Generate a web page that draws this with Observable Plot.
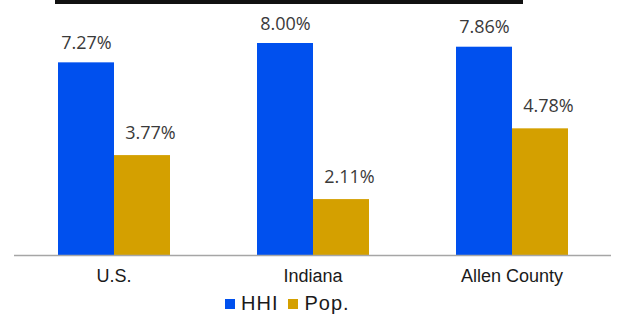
<!DOCTYPE html>
<html>
<head>
<meta charset="utf-8">
<script src="https://cdn.jsdelivr.net/npm/d3@7"></script>
<script src="https://cdn.jsdelivr.net/npm/@observablehq/plot@0.6"></script>
<style>
  html, body { margin: 0; padding: 0; background: #fff; }
  #wrap { position: relative; width: 618px; height: 320px; overflow: hidden; }
  #topbar { position: absolute; top: 0; left: 55px; width: 468px; height: 4px; background: #111; }
  #chart { position: absolute; top: 0; left: 0; }
  #legend { position: absolute; top: 292px; left: 225px; display: flex; align-items: center;
            font-family: "Liberation Sans", Arial, sans-serif; font-size: 20px; color: #1a1a1a;
            letter-spacing: 1px; }
  .sw { width: 10px; height: 10px; display: inline-block; margin-right: 6px; }
  .item { display: flex; align-items: center; margin-right: 10px; }
</style>
</head>
<body>
<div id="wrap">
  <div id="chart"></div>
  <div id="topbar"></div>
  <div id="legend"></div>
</div>
<script>
const regions = ["U.S.", "Indiana", "Allen County"];
const seriesNames = ["HHI", "Pop."];
const hhi = [7.27, 8.00, 7.86];
const pop = [3.77, 2.11, 4.78];
const colors = ["#0050EE", "#D4A000"];

const data = [];
regions.forEach((r, i) => {
  data.push({region: r, series: "HHI", value: hhi[i]});
  data.push({region: r, series: "Pop.", value: pop[i]});
});
const fmt = v => v.toFixed(2) + "%";

const chart = Plot.plot({
  width: 618,
  height: 292,
  marginTop: 43,
  marginBottom: 37,
  marginLeft: 13,
  marginRight: 6,
  style: {background: "transparent", overflow: "visible"},
  fx: {domain: regions, padding: 0, label: null},
  x: {domain: seriesNames, paddingInner: 0, paddingOuter: 0.765, axis: null},
  y: {domain: [0, 8], axis: null},
  color: {domain: seriesNames, range: colors},
  marks: [
    Plot.barY(data, {fx: "region", x: "series", y: "value", fill: "series"}),
    Plot.ruleY([0], {stroke: "#a6a6a6", strokeWidth: 1.5}),
    Plot.text(data.filter(d => d.series === "HHI"), {
      fx: "region", x: "series", y: "value", text: d => fmt(d.value),
      lineAnchor: "bottom", dy: -14, fontSize: 18, fill: "#3a3a3a",
      fontFamily: "'Open Sans', sans-serif"
    }),
    Plot.text(data.filter(d => d.series === "Pop."), {
      fx: "region", x: "series", y: "value", text: d => fmt(d.value),
      lineAnchor: "bottom", dy: -17, dx: 8, fontSize: 18, fill: "#3a3a3a",
      fontFamily: "'Open Sans', sans-serif"
    }),
    Plot.axisFx({anchor: "bottom", tickSize: 0, tickPadding: 14, fontSize: 18,
      fontFamily: "'Liberation Sans', Arial, sans-serif", fill: "#1a1a1a", label: null,
      style: {letterSpacing: "0.4px"}})
  ]
});
document.getElementById("chart").appendChild(chart);

const legend = document.getElementById("legend");
seriesNames.forEach((s, i) => {
  const it = document.createElement("div");
  it.className = "item";
  const sw = document.createElement("span");
  sw.className = "sw";
  sw.style.background = colors[i];
  it.appendChild(sw);
  const t = document.createElement("span");
  t.textContent = s;
  it.appendChild(t);
  legend.appendChild(it);
});
</script>
</body>
</html>
